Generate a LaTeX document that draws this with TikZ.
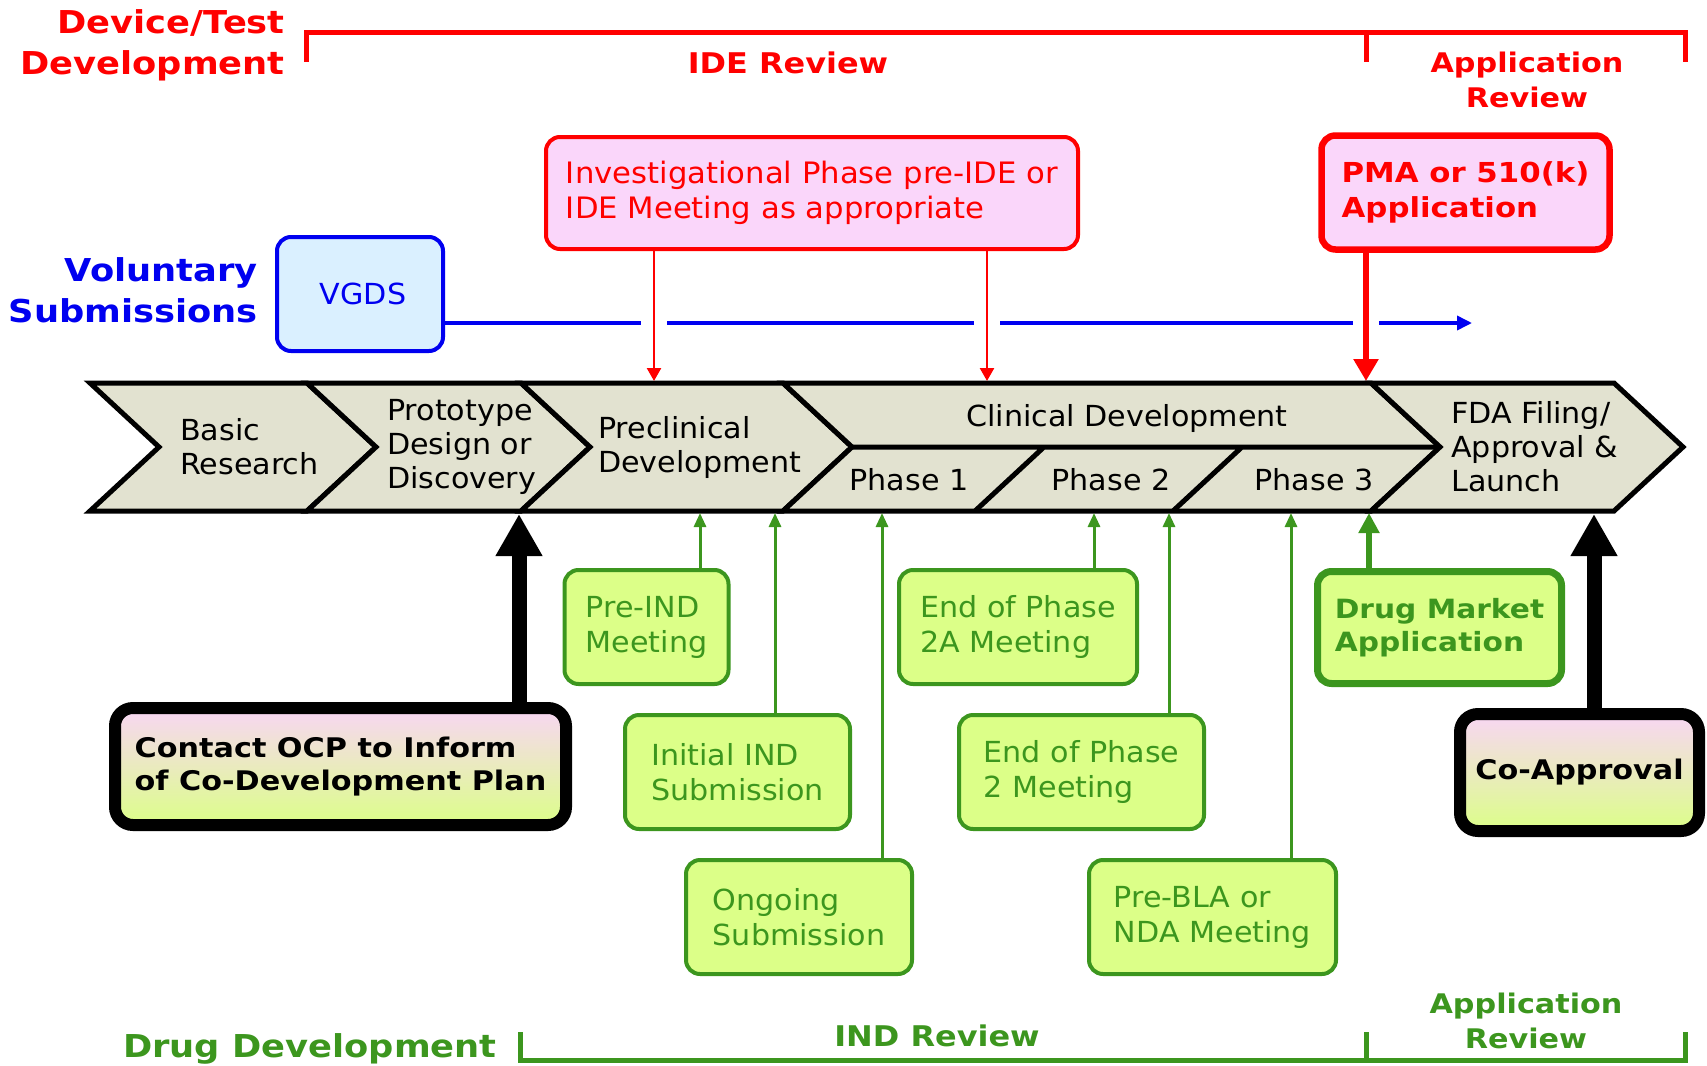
\documentclass[tikz,border=0pt]{standalone}
\usepackage{fontspec}
\setmainfont{DejaVu Sans}[FakeStretch=1.04]
\newfontfamily\wideface{DejaVu Sans}[FakeStretch=1.12]
\usetikzlibrary{arrows.meta}
\definecolor{ideRed}{RGB}{255,0,0}
\definecolor{idePink}{RGB}{250,214,250}
\definecolor{vgBlue}{RGB}{0,0,240}
\definecolor{vgFill}{RGB}{218,240,255}
\definecolor{indGreen}{RGB}{60,150,30}
\definecolor{indFill}{RGB}{220,255,136}
\definecolor{bandFill}{RGB}{226,226,208}
\definecolor{coPink}{RGB}{248,214,244}

\tikzset{
  band/.style={draw=black, fill=bandFill, line width=5pt, line join=miter},
  btxt/.style={font=\fontsize{29}{34}\selectfont, align=left, inner sep=0pt},
  hd/.style={font=\wideface\bfseries\fontsize{31.5}{41}\selectfont, inner sep=0pt},
  hdm/.style={font=\wideface\bfseries\fontsize{28.5}{35}\selectfont, inner sep=0pt},
  hds/.style={font=\wideface\bfseries\fontsize{27}{35}\selectfont, inner sep=0pt, align=center},
  rbox/.style={draw=ideRed, fill=idePink, line width=4pt, rounded corners=14pt,
    align=left, text=ideRed, font=\fontsize{29.5}{35}\selectfont},
  vbox/.style={draw=vgBlue, fill=vgFill, line width=4pt, rounded corners=14pt,
    text=vgBlue, font=\fontsize{29}{35}\selectfont},
  gbox/.style={draw=indGreen, fill=indFill, line width=4pt, rounded corners=14pt,
    align=left, text=indGreen, font=\fontsize{29}{35}\selectfont, minimum height=114pt},
  kbox/.style={draw=black, line width=12pt, rounded corners=18pt, top color=coPink,
    bottom color=indFill, align=left, minimum height=117pt,
    font=\wideface\bfseries\fontsize{27}{33}\selectfont},
  redarr/.style={draw=ideRed, line width=2.5pt, -{Triangle[length=13pt, width=14pt]}},
  bigred/.style={draw=ideRed, line width=6.5pt, -{Triangle[length=22pt, width=24pt]}},
  grnarr/.style={draw=indGreen, line width=3pt, -{Triangle[length=14pt, width=12pt]}},
  biggrn/.style={draw=indGreen, line width=6pt, -{Triangle[length=20pt, width=20pt]}},
  blkarr/.style={draw=black, line width=15pt, -{Triangle[length=42pt, width=44pt]}},
  bluarr/.style={draw=vgBlue, line width=3.5pt, -{Triangle[length=15pt, width=14pt]}}
}

\begin{document}
\begin{tikzpicture}[x=1pt, y=-1pt]
  \useasboundingbox (0,0) rectangle (1707,1065);
  \foreach \xa/\xb in {90/307, 307/521, 521/783, 783/1371, 1371/1614}
    \draw[band] (\xa,383) -- (\xb,383) -- (\xb+69,447) -- (\xb,511) -- (\xa,511) -- (\xa+69,447) -- cycle;
  \draw[line width=5pt] (852,447) -- (1440,447) (975,511) -- (1044,447) (1173,511) -- (1242,447);

  \node[btxt, anchor=west] (basic) at (180,447) {Basic\\Research};
  \node[btxt, anchor=west] (proto) at (387,447) {Prototype\\Design or\\Discovery};
  \node[btxt, anchor=west] (precl) at (598,447) {Preclinical\\Development};
  \node[btxt] (clin) at (1127,418) {Clinical Development};
  \node[btxt] (ph1) at (909,480) {Phase 1};
  \node[btxt] (ph2) at (1111,480) {Phase 2};
  \node[btxt] (ph3) at (1314,480) {Phase 3};
  \node[btxt, anchor=west] (fda) at (1451,447) {FDA Filing/\\Approval \&\\Launch};

  \node[hd, text=ideRed, anchor=east, align=right] (devtest) at (285,45) {Device/Test\\Development};
  \node[hdm, text=ideRed] (iderev) at (788,63) {IDE Review};
  \node[hds, text=ideRed] (apprev) at (1527,80) {Application\\Review};
  \node[hd, text=vgBlue, anchor=east, align=right] (volsub) at (258,290) {Voluntary\\Submissions};
  \node[hd, text=indGreen, anchor=base east] (drugdev) at (497,1057) {Drug Development};
  \node[hdm, text=indGreen] (indrev) at (937,1036) {IND Review};
  \node[hds, text=indGreen] (apprevb) at (1526,1021) {Application\\Review};
  \draw[ideRed, line width=5pt] (306,62) -- (306,33) -- (1685,33) -- (1685,62) (1366,33) -- (1366,62);
  \draw[indGreen, line width=5pt] (520,1032) -- (520,1060) -- (1685,1060) -- (1685,1032) (1366,1060) -- (1366,1032);

  \node[rbox, minimum width=532pt, minimum height=112pt] (ide) at (812,193) {Investigational Phase pre-IDE or\\IDE Meeting as appropriate};
  \node[rbox, line width=6.5pt, minimum width=288pt, minimum height=114pt,
    font=\wideface\bfseries\fontsize{27.5}{35}\selectfont] (pma) at (1465.5,192.5) {PMA or 510(k)\\Application};
  \node[vbox, minimum width=166pt, minimum height=114pt] (vgds) at (360,294) {\hspace{6pt}VGDS};

  \node[gbox, minimum width=164pt] (preind) at (646.5,627) {Pre-IND\\Meeting};
  \node[gbox, minimum width=225pt] (initind) at (737.5,772) {Initial IND\\Submission};
  \node[gbox, minimum width=226pt] (ongoing) at (799,917) {Ongoing\\Submission};
  \node[gbox, minimum width=238pt] (eoptwoa) at (1018,627) {End of Phase\\2A Meeting};
  \node[gbox, minimum width=245pt] (eoptwo) at (1081.5,772) {End of Phase\\2 Meeting};
  \node[gbox, minimum width=247pt] (prebla) at (1212.5,917) {Pre-BLA or\\NDA Meeting};
  \node[gbox, line width=7pt, minimum width=244pt, minimum height=112pt,
    font=\wideface\bfseries\fontsize{26.5}{33}\selectfont] (dma) at (1439.5,627.5) {Drug Market\\Application};
  \node[kbox, minimum width=451pt] (contact) at (340.5,766.5) {Contact OCP to Inform\\of Co-Development Plan};
  \node[kbox, minimum width=239pt] (coappr) at (1579.5,772.5) {Co-Approval};

  \coordinate (vend) at (1472,323);
  \coordinate (r1) at (654,381);
  \coordinate (r2) at (987,381);
  \coordinate (r3) at (1366,381);
  \coordinate (g1) at (700,513);
  \coordinate (g2) at (775,513);
  \coordinate (g3) at (882,513);
  \coordinate (g4) at (1094,513);
  \coordinate (g5) at (1169,513);
  \coordinate (g6) at (1291,513);
  \coordinate (g7) at (1369,513);
  \coordinate (b0) at (519,514);
  \coordinate (b1) at (1594,514);

  \draw[bluarr] (vgds.east |- vend) -- (vend);
  \foreach \gx in {654,987,1366}
    \fill[white] (\gx-13,317) rectangle (\gx+13,329);
  \path (ide.south -| r1) edge[redarr] (r1)
        (ide.south -| r2) edge[redarr] (r2)
        (pma.south -| r3) edge[bigred] (r3)
        (preind.north -| g1) edge[grnarr] (g1)
        (initind.north -| g2) edge[grnarr] (g2)
        (ongoing.north -| g3) edge[grnarr] (g3)
        (eoptwoa.north -| g4) edge[grnarr] (g4)
        (eoptwo.north -| g5) edge[grnarr] (g5)
        (prebla.north -| g6) edge[grnarr] (g6)
        (dma.north -| g7) edge[biggrn] (g7)
        (contact.north -| b0) edge[blkarr] (b0)
        (coappr.north -| b1) edge[blkarr] (b1);
\end{tikzpicture}
\end{document}
